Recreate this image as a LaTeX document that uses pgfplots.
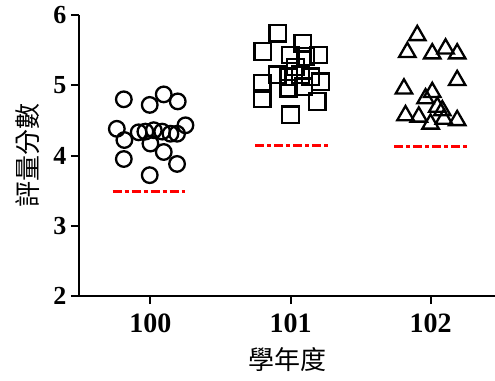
\documentclass[border=0pt]{standalone}
\usepackage{pgfplots}
\pgfplotsset{compat=1.18}
\usepackage{fontspec}
\setmainfont{Liberation Serif}
\newfontfamily\cjk{Noto Sans CJK TC}
\begin{document}
\begin{tikzpicture}
\useasboundingbox (-79pt,-84pt) rectangle (416pt,296pt);
\begin{axis}[
  scale only axis, width=416pt, height=281pt,
  at={(0,0)}, anchor=south west,
  xmin=99.49, xmax=102.46, ymin=2, ymax=6,
  axis lines=left, axis line style={line width=2.5pt, -},
  xtick={100,101,102}, ytick={2,3,4,5,6},
  minor tick num=0,
  major tick style={line width=2pt, black},
  major tick length=8pt, tick align=outside,
  /pgf/number format/assume math mode=true,
  xticklabel style={/pgf/number format/1000 sep={}, font=\fontsize{28}{28}\selectfont\bfseries, yshift=-6pt},
  yticklabel style={font=\fontsize{26}{26}\selectfont\bfseries, xshift=-1pt},
  ylabel={\cjk 評量分數},
  xlabel={\cjk 學年度},
  ylabel style={font=\fontsize{26}{26}\selectfont, at={(axis description cs:0,0.5)}, anchor=center, yshift=51pt},
  xlabel style={font=\fontsize{26}{26}\selectfont, at={(axis description cs:0.5,0)}, anchor=center, yshift=-64pt},
  clip=false,
]
\addplot[only marks, mark=o, mark size=7.8pt, mark options={draw=black, line width=2.3pt}] coordinates {
(99.810,4.80) (99.995,4.72) (100.095,4.87) (100.195,4.77)
(99.760,4.38) (99.814,4.22) (99.916,4.33) (99.964,4.34)
(100.024,4.36) (100.084,4.34) (100.143,4.31) (100.190,4.31)
(100.250,4.43) (100.000,4.17) (99.810,3.95) (100.095,4.05)
(100.190,3.88) (99.995,3.72)
};
\addplot[only marks, mark=square, mark size=8.3pt, mark options={draw=black, line width=2.3pt}] coordinates {
(100.910,5.74) (100.802,5.48) (101.088,5.60) (101.202,5.43)
(101.000,5.43) (101.107,5.41) (101.036,5.26) (100.905,5.15)
(100.988,5.12) (101.071,5.15) (101.143,5.12) (100.798,5.03)
(101.214,5.05) (100.988,4.96) (101.095,4.98) (100.798,4.81)
(101.190,4.77) (101.000,4.58)
};
\addplot[only marks, mark=triangle, mark size=9.5pt, mark options={draw=black, line width=2.3pt}] coordinates {
(101.905,5.71) (101.834,5.47) (102.012,5.45) (102.107,5.52)
(102.190,5.45) (102.190,5.07) (101.810,4.95) (102.012,4.90)
(101.964,4.81) (102.048,4.69) (102.084,4.64) (101.821,4.57)
(101.916,4.55) (102.000,4.45) (102.095,4.52) (102.190,4.50)
};
\addplot[red, line width=3pt, dash pattern=on 9pt off 3pt on 4pt off 3pt] coordinates {(99.73,3.49) (100.25,3.49)};
\addplot[red, line width=3pt, dash pattern=on 9pt off 3pt on 4pt off 3pt] coordinates {(100.75,4.14) (101.29,4.14)};
\addplot[red, line width=3pt, dash pattern=on 9pt off 3pt on 4pt off 3pt] coordinates {(101.74,4.13) (102.27,4.13)};
\end{axis}
\end{tikzpicture}
\end{document}
